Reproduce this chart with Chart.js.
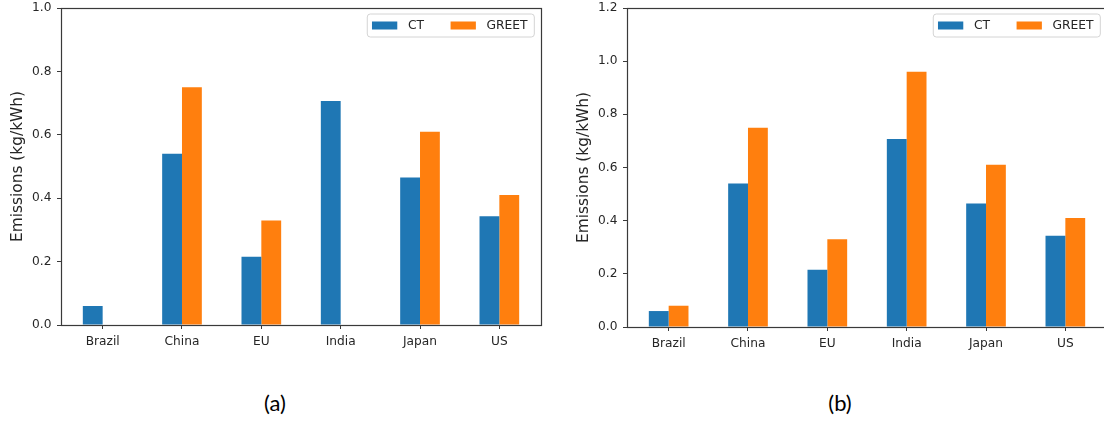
<!DOCTYPE html>
<html>
<head>
<meta charset="utf-8">
<script src="https://cdn.jsdelivr.net/npm/chart.js@4.4.1/dist/chart.umd.min.js"></script>
<style>
  html, body { margin: 0; padding: 0; background: #fff; overflow: hidden; width: 1104px; height: 421px; }
  .panel { position: absolute; top: 0; width: 560px; height: 360px; }
  #panelA { left: 0; }
  #panelB { left: 560px; }
  .caption { position: absolute; top: 388px; font-family: Lato, 'Open Sans', sans-serif; font-size: 22px; color: #000; transform: translateX(-50%); line-height: 30px; }
</style>
</head>
<body>
<div class="panel" id="panelA"><canvas id="chartA" width="560" height="360"></canvas></div>
<div class="panel" id="panelB"><canvas id="chartB" width="560" height="360"></canvas></div>
<div class="caption" style="left:275px">(a)</div>
<div class="caption" style="left:840px">(b)</div>
<script>
// Grid-electricity emission factors by region
const categories = ['Brazil', 'China', 'EU', 'India', 'Japan', 'US'];
const ctValuesA    = [0.06, 0.54, 0.215, 0.707, 0.465, 0.343];
const greetValuesA = [null, 0.75, 0.33, null, 0.61, 0.41];
const ctValuesB    = [0.06, 0.54, 0.215, 0.707, 0.465, 0.343];
const greetValuesB = [0.08, 0.75, 0.33, 0.96, 0.61, 0.41];
const yTicksA = [0.0, 0.2, 0.4, 0.6, 0.8, 1.0];
const yTicksB = [0.0, 0.2, 0.4, 0.6, 0.8, 1.0, 1.2];
const seriesNames = ['CT', 'GREET'];
const seriesColors = ['#1f77b4', '#ff7f0e'];
const yTitle = 'Emissions (kg/kWh)';

const FONT = "'DejaVu Sans', sans-serif";
const TEXT = '#262626';
const AXIS = '#3a3a3a';

// Box around the plotting area (all four spines)
const frame = {
  id: 'frame',
  afterDatasetsDraw(chart) {
    const { ctx, chartArea: a } = chart;
    ctx.save();
    ctx.strokeStyle = AXIS;
    ctx.lineWidth = 1.2;
    ctx.strokeRect(Math.round(a.left) + 0.5, Math.round(a.top) + 0.5,
                   Math.round(a.right - a.left), Math.round(a.bottom - a.top));
    ctx.restore();
  }
};

// Legend drawn inside the upper-right corner of the plotting area
const insetLegend = {
  id: 'insetLegend',
  afterDraw(chart) {
    const { ctx, chartArea: a } = chart;
    ctx.save();
    ctx.font = '12.3px ' + FONT;
    const items = chart.data.datasets.map(ds => ({
      label: ds.label, color: ds.backgroundColor, w: ctx.measureText(ds.label).width
    }));
    const padL = 4.7, padR = 6.7, sw = 25.3, sh = 8, gap = 10.6, colGap = 26.6, h = 23;
    let total = padL + padR;
    items.forEach((it, i) => { total += sw + gap + it.w + (i > 0 ? colGap : 0); });
    const right = a.right - 6.7;
    const left = right - total;
    const top = a.top + 6;
    const r = 3;
    ctx.beginPath();
    ctx.moveTo(left + r, top);
    ctx.arcTo(right, top, right, top + h, r);
    ctx.arcTo(right, top + h, left, top + h, r);
    ctx.arcTo(left, top + h, left, top, r);
    ctx.arcTo(left, top, right, top, r);
    ctx.closePath();
    ctx.fillStyle = 'rgba(255,255,255,0.85)';
    ctx.fill();
    ctx.strokeStyle = '#d4d4d4';
    ctx.lineWidth = 1;
    ctx.stroke();
    const cy = top + h / 2;
    let x = left + padL;
    ctx.textBaseline = 'middle';
    ctx.textAlign = 'left';
    items.forEach((it, i) => {
      if (i > 0) x += colGap;
      ctx.fillStyle = it.color;
      ctx.fillRect(x, cy - sh / 2, sw, sh);
      x += sw + gap;
      ctx.fillStyle = TEXT;
      ctx.fillText(it.label, x, cy + 0.5);
      x += it.w;
    });
    ctx.restore();
  }
};

function makeChart(canvasId, ctValues, greetValues, yTicks, geo) {
  const series = [ctValues, greetValues];
  const datasets = series.map((vals, s) => ({
    label: seriesNames[s],
    data: categories.map((c, i) => ({ x: i, y: vals[i] })),
    backgroundColor: seriesColors[s],
    borderWidth: 0,
    categoryPercentage: 0.5,
    barPercentage: 1.0
  }));
  return new Chart(document.getElementById(canvasId), {
    type: 'bar',
    data: { datasets },
    plugins: [frame, insetLegend],
    options: {
      responsive: false,
      animation: false,
      layout: { padding: { left: 0, top: geo.top, right: geo.right, bottom: 0 } },
      plugins: { legend: { display: false }, tooltip: { enabled: false } },
      scales: {
        x: {
          type: 'linear',
          offset: false,
          min: -0.525,
          max: categories.length - 1 + 0.525,
          afterBuildTicks: (axis) => { axis.ticks = categories.map((c, i) => ({ value: i })); },
          afterFit: (axis) => {
            axis.height = geo.xAxisHeight;
            axis.paddingLeft = 0; axis.paddingRight = 0;
          },
          border: { display: false },
          grid: { offset: false, drawOnChartArea: false, drawTicks: true, tickLength: 4, color: AXIS, lineWidth: 1 },
          ticks: {
            autoSkip: false, maxRotation: 0, padding: 6,
            color: TEXT, font: { family: FONT, size: 12.2 },
            callback: (v) => categories[v]
          }
        },
        y: {
          min: yTicks[0],
          max: yTicks[yTicks.length - 1],
          afterBuildTicks: (axis) => { axis.ticks = yTicks.map(v => ({ value: v })); },
          afterFit: (axis) => {
            axis.width = geo.yAxisWidth;
            axis.paddingTop = 0; axis.paddingBottom = 0;
          },
          border: { display: false },
          grid: { drawOnChartArea: false, drawTicks: true, tickLength: 4, color: AXIS, lineWidth: 1 },
          ticks: {
            padding: 5.5, color: TEXT, font: { family: FONT, size: 12.2 },
            callback: (v) => Number(v).toFixed(1)
          },
          title: {
            display: true, text: yTitle, color: TEXT,
            font: { family: FONT, size: 15.4 },
            padding: { top: geo.titlePad, bottom: 0 }
          }
        }
      }
    }
  });
}

makeChart('chartA', ctValuesA, greetValuesA, yTicksA,
  { top: 8, right: 19, xAxisHeight: 35, yAxisWidth: 61, titlePad: 9.2 });
makeChart('chartB', ctValuesB, greetValuesB, yTicksB,
  { top: 8, right: 13, xAxisHeight: 33, yAxisWidth: 67, titlePad: 15.2 });
</script>
</body>
</html>
